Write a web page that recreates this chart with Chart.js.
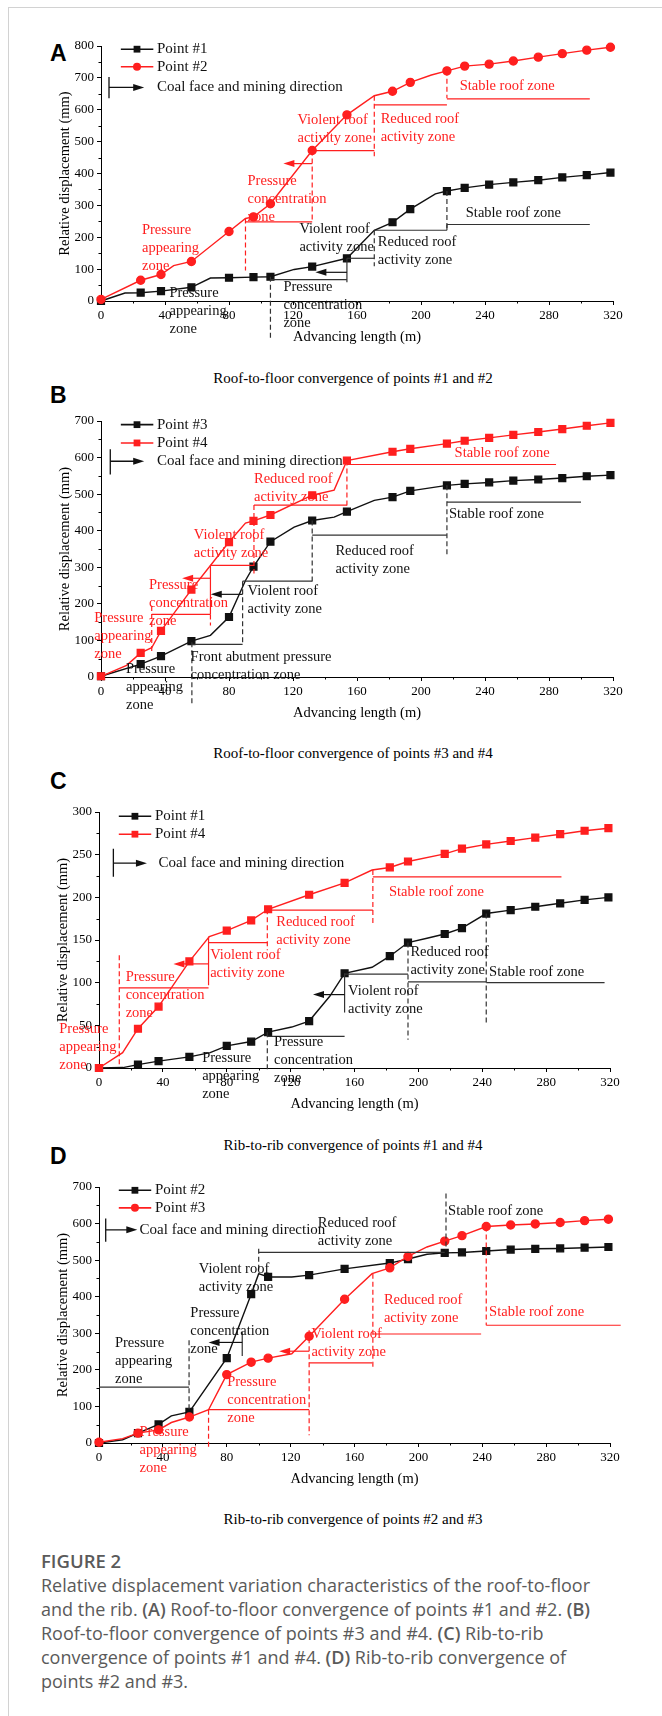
<!DOCTYPE html>
<html>
<head>
<meta charset="utf-8">
<script src="https://cdn.jsdelivr.net/npm/chart.js"></script>
<style>
  body { margin: 0; background: #fff; width: 662px; height: 1716px; position: relative; overflow: hidden; }
  canvas { position: absolute; left: 0; }
  .frame { position: absolute; left: 8px; top: 7px; width: 700px; height: 1800px; border-left: 1px solid #d2d2d2; border-top: 1px solid #d2d2d2; }
  .tag { position: absolute; left: 50px; font: bold 23px/23px "Liberation Sans", Arial, sans-serif; color: #000; }
  .cap { position: absolute; left: 97px; width: 512px; text-align: center; font: 15px/20px "Liberation Serif", serif; color: #000; }
  .fig { position: absolute; left: 41px; top: 1549px; width: 620px; white-space: nowrap; font-family: "Open Sans", sans-serif; color: #5a5a5a; }
  .fig .h { font-weight: 600; font-size: 18.5px; line-height: 24px; }
  .fig .t { font-size: 18px; line-height: 24px; }
  .fig b { font-weight: 600; }
</style>
</head>
<body>
<div class="frame"></div>

<div class="tag" style="top:42px">A</div>
<div class="cap" style="top:368px">Roof-to-floor convergence of points #1 and #2</div>
<div class="tag" style="top:384px">B</div>
<div class="cap" style="top:743px">Roof-to-floor convergence of points #3 and #4</div>
<div class="tag" style="top:770px">C</div>
<div class="cap" style="top:1135px">Rib-to-rib convergence of points #1 and #4</div>
<div class="tag" style="top:1145px">D</div>
<div class="cap" style="top:1509px">Rib-to-rib convergence of points #2 and #3</div>

<canvas id="cA" width="662" height="316" style="top:30px"></canvas>
<canvas id="cB" width="662" height="317" style="top:405px"></canvas>
<canvas id="cC" width="662" height="317" style="top:796px"></canvas>
<canvas id="cD" width="662" height="317" style="top:1171px"></canvas>

<div class="fig">
  <div class="h">FIGURE 2</div>
  <div class="t">Relative displacement variation characteristics of the roof-to-floor<br>and the rib. <b>(A)</b> Roof-to-floor convergence of points #1 and #2. <b>(B)</b><br>Roof-to-floor convergence of points #3 and #4. <b>(C)</b> Rib-to-rib<br>convergence of points #1 and #4. <b>(D)</b> Rib-to-rib convergence of<br>points #2 and #3.</div>
</div>

<script>
// Eixo X comum (m)
const xTicks = [0, 40, 80, 120, 160, 200, 240, 280, 320];
const yTicksA = [0, 100, 200, 300, 400, 500, 600, 700, 800];
const yTicksB = [0, 100, 200, 300, 400, 500, 600, 700];
const yTicksC = [0, 50, 100, 150, 200, 250, 300];
const yTicksD = [0, 100, 200, 300, 400, 500, 600, 700];

// (A) Point #1 / Point #2  (m = 1 -> marcador)
const xA1 = [0, 15, 24.8, 37.5, 56.5, 68.4, 80, 95.3, 105.9, 120.7, 132, 153.7, 170.8, 182.2, 193.3, 209, 216.2, 227.3, 242.6, 257.7, 273.3, 288.3, 303.6, 318.4];
const yA1 = [0, 25, 26, 31, 43, 72, 73, 75, 76, 99, 108, 134, 222, 247, 288, 336, 345, 355, 365, 372, 379, 388, 395, 403];
const mA1 = [1, 0, 1, 1, 1, 0, 1, 1, 1, 0, 1, 1, 0, 1, 1, 0, 1, 1, 1, 1, 1, 1, 1, 1];
const xA2 = [0, 24.8, 37.5, 45.4, 56.5, 80, 90.3, 95.3, 105.9, 132, 153.7, 170.8, 182.2, 193.3, 206.5, 216.2, 227.3, 242.6, 257.7, 273.3, 288.3, 303.6, 318.4];
const yA2 = [5, 65, 83, 111, 124, 218, 259, 264, 305, 472, 584, 644, 658, 686, 709, 722, 737, 743, 753, 765, 776, 787, 796];
const mA2 = [1, 1, 1, 0, 1, 1, 0, 1, 1, 1, 1, 0, 1, 1, 0, 1, 1, 1, 1, 1, 1, 1, 1];

// (B) Point #3 / Point #4
const xB3 = [0, 24.8, 37.5, 56.5, 68.4, 80, 90.3, 95.3, 105.9, 120.7, 132, 145.7, 153.7, 170.8, 182.2, 193.3, 216.2, 227.3, 242.6, 257.7, 273.3, 288.3, 303.6, 318.4];
const yB3 = [2, 35, 57, 98, 114, 164, 264, 302, 370, 410, 428, 437, 452, 483, 492, 509, 524, 528, 532, 537, 540, 544, 549, 552];
const mB3 = [1, 1, 1, 1, 0, 1, 0, 1, 1, 0, 1, 0, 1, 0, 1, 1, 1, 1, 1, 1, 1, 1, 1, 1];
const xB4 = [0, 16, 24.8, 31.7, 37.5, 56.5, 68.4, 80, 90.3, 95.3, 105.9, 132, 145.7, 153.7, 182.2, 193.3, 216.2, 227.3, 242.6, 257.7, 273.3, 288.3, 303.6, 318.4];
const yB4 = [2, 32, 66, 80, 126, 239, 305, 369, 421, 427, 443, 497, 511, 592, 616, 624, 638, 646, 654, 662, 670, 678, 687, 695];
const mB4 = [1, 0, 1, 0, 1, 1, 0, 1, 0, 1, 1, 1, 0, 1, 1, 1, 1, 1, 1, 1, 1, 1, 1, 1];

// (C) Point #1 / Point #4
const xC1 = [0, 15, 24.4, 37.3, 56.6, 69.6, 80, 95.3, 105.9, 120.7, 131.6, 144.5, 153.8, 171, 182.1, 193.5, 205.4, 216.5, 227.3, 242.5, 257.8, 273.2, 288.8, 304.1, 319];
const yC1 = [0, 0.5, 4, 8, 13, 18, 26, 31, 42, 48, 55, 84, 111, 118, 131, 147, 152, 157, 164, 181, 185, 189, 193, 197, 200];
const mC1 = [1, 0, 1, 1, 1, 0, 1, 1, 1, 0, 1, 0, 1, 0, 1, 1, 0, 1, 1, 1, 1, 1, 1, 1, 1];
const xC4 = [0, 14.8, 24.4, 37.3, 56.6, 69.1, 80, 95.3, 105.9, 131.6, 153.8, 171, 182.1, 193.5, 216.5, 227.3, 242.5, 257.8, 273.2, 288.8, 304.1, 319];
const yC4 = [0, 18, 46, 72, 125, 154, 161, 173, 186, 203, 217, 232, 235, 242, 251, 257, 262, 266, 270, 274, 278, 281];
const mC4 = [1, 0, 1, 1, 1, 0, 1, 1, 1, 1, 1, 0, 1, 1, 1, 1, 1, 1, 1, 1, 1, 1];

// (D) Point #2 / Point #3
const xD2 = [0, 14.8, 24.4, 37.3, 45.3, 56.6, 80, 95.3, 100, 105.9, 120.7, 131.6, 153.8, 182.1, 193.5, 205.4, 216.5, 227.3, 242.5, 257.8, 273.2, 288.8, 304.1, 319];
const yD2 = [0, 9, 27, 51, 74, 85, 232, 407, 463, 454, 454, 459, 476, 492, 503, 516, 520, 521, 525, 529, 531, 532, 534, 536];
const mD2 = [1, 0, 1, 1, 0, 1, 1, 1, 0, 1, 0, 1, 1, 1, 1, 0, 1, 1, 1, 1, 1, 1, 1, 1];
const xD3 = [0, 14.8, 24.4, 37.3, 45.3, 56.6, 68.6, 80, 95.3, 105.9, 120.7, 131.6, 153.8, 171, 182.1, 193.5, 205.4, 216.5, 227.3, 242.5, 257.8, 273.2, 288.8, 304.1, 319];
const yD3 = [2, 12, 27, 36, 56, 71, 91, 187, 221, 232, 244, 292, 393, 463, 479, 510, 536, 552, 567, 592, 596, 599, 603, 608, 612];
const mD3 = [1, 0, 1, 1, 0, 1, 0, 1, 1, 1, 0, 1, 1, 0, 1, 1, 0, 1, 1, 1, 1, 1, 1, 1, 1];

// Legenda: y de cada entrada; símbolo da frente de lavra: [x barra, y1, y2, x seta, y seta, x texto]
const legYA = [790, 735], coalA = [5, 636, 703, 27, 670, 35];
const legYB = [690, 640], coalB = [5.8, 554, 623, 27, 590, 35];
const legYC = [295, 274], coalC = [9, 224, 257, 30, 240, 37.3];
const legYD = [691, 643], coalD = [4.2, 550, 614, 24, 583, 25.4];

// Zonas: segmentos [cor, x1, y1, x2, y2, tracejado], setas [cor, xDe, xPara, y], textos [cor, x, y, linhas]
const segA = [
  ['r', 90.3, 259, 90.3, 96, 1], ['r', 90.3, 248, 132, 248, 0], ['r', 132, 472, 132, 248, 1],
  ['r', 132, 472, 170.8, 472, 0], ['r', 170.8, 644, 170.8, 454, 1], ['r', 170.8, 615, 216.2, 615, 0],
  ['r', 216.2, 722, 216.2, 636, 1], ['r', 216.2, 634, 305.5, 634, 0],
  ['k', 105.9, 76, 105.9, -117, 1], ['k', 105.9, 67, 153.7, 67, 0], ['k', 153.7, 134, 153.7, 59, 0],
  ['k', 153.7, 134, 170.8, 134, 0], ['k', 170.8, 222, 170.8, 109, 1], ['k', 170.8, 222, 216.2, 222, 0],
  ['k', 216.2, 345, 216.2, 222, 1], ['k', 216.2, 222, 216.2, 240, 0], ['k', 216.2, 240, 305.5, 240, 0]
];
const arrA = [['r', 132, 114, 431], ['k', 153.7, 134, 90]];
const txtA = [
  ['r', 25.6, 222, 'Pressure|appearing|zone'], ['r', 91.6, 376, 'Pressure|concentration|zone'],
  ['r', 122.8, 566, 'Violent roof|activity zone'], ['r', 174.8, 570, 'Reduced roof|activity zone'],
  ['r', 224.2, 674, 'Stable roof zone'],
  ['k', 42.8, 23, 'Pressure|appearing|zone'], ['k', 114, 44, 'Pressure|concentration|zone'],
  ['k', 124, 224, 'Violent roof|activity zone'], ['k', 173, 184, 'Reduced roof|activity zone'],
  ['k', 228, 277, 'Stable roof zone']
];

const segB = [
  ['r', 31.7, 194, 31.7, 66, 1], ['r', 31.7, 171, 68.4, 171, 0], ['r', 68.4, 305, 68.4, 171, 0],
  ['r', 68.4, 171, 68.4, 141, 1], ['r', 68.4, 305, 95.6, 305, 0], ['r', 95.6, 470, 95.6, 283, 1],
  ['r', 95.6, 470, 153.7, 470, 0], ['r', 153.7, 592, 153.7, 462, 1], ['r', 153.7, 581, 284.4, 581, 0],
  ['k', 56.8, 95, 56.8, -73, 1], ['k', 56.8, 89, 88.5, 89, 0], ['k', 88.5, 262, 88.5, 89, 1],
  ['k', 88.5, 262, 132, 262, 0], ['k', 132, 428, 132, 261, 1], ['k', 132, 388, 216.2, 388, 0],
  ['k', 216.2, 524, 216.2, 328, 1], ['k', 216.2, 478, 300, 478, 0]
];
const arrB = [['r', 68.4, 50.7, 270], ['k', 88.5, 68.6, 226]];
const txtB = [
  ['r', -4.2, 160, 'Pressure|appearing|zone'], ['r', 30, 251, 'Pressure|concentration|zone'],
  ['r', 58, 388, 'Violent roof|activity zone'], ['r', 95.6, 540, 'Reduced roof|activity zone'],
  ['r', 221, 611, 'Stable roof zone'],
  ['k', 15.6, 20, 'Pressure|appearing|zone'], ['k', 56, 55, 'Front abutment pressure|concentration zone'],
  ['k', 91.6, 234, 'Violent roof|activity zone'], ['k', 146.5, 344, 'Reduced roof|activity zone'],
  ['k', 217.5, 445, 'Stable roof zone']
];

const segC = [
  ['r', 12.7, 132, 12.7, 2, 1], ['r', 12.7, 94, 68.6, 94, 0], ['r', 68.6, 154, 68.6, 97, 0],
  ['r', 68.6, 147, 105.4, 147, 0], ['r', 105.4, 186, 105.4, 138, 1], ['r', 105.4, 185, 171.5, 185, 0],
  ['r', 171.5, 232, 171.5, 170, 1], ['r', 171.5, 224, 289.6, 224, 0],
  ['k', 105.4, 42, 105.4, -4, 1], ['k', 105.4, 37, 153.8, 37, 0], ['k', 153.8, 111, 153.8, 65, 0],
  ['k', 153.8, 110, 193.5, 110, 0], ['k', 193.5, 147, 193.5, 33, 1], ['k', 193.5, 101, 242.5, 101, 0],
  ['k', 242.5, 181, 242.5, 51, 1], ['k', 242.5, 100, 316.6, 100, 0]
];
const arrC = [['r', 68.6, 46.6, 122], ['k', 153.8, 134, 86]];
const txtC = [
  ['r', -24.9, 46, 'Pressure|appearing|zone'], ['r', 16.7, 106, 'Pressure|concentration|zone'],
  ['r', 69.6, 132.5, 'Violent roof|activity zone'], ['r', 111, 171, 'Reduced roof|activity zone'],
  ['r', 181.6, 206, 'Stable roof zone'],
  ['k', 64.6, 11, 'Pressure|appearing|zone'], ['k', 109.6, 30, 'Pressure|concentration|zone'],
  ['k', 156, 90.5, 'Violent roof|activity zone'], ['k', 195, 135.5, 'Reduced roof|activity zone'],
  ['k', 244.3, 112, 'Stable roof zone']
];

const segD = [
  ['k', 0, 153, 56.4, 153, 0], ['k', 56.4, 281, 56.4, 85, 1], ['k', 89.7, 304, 89.7, 238, 0],
  ['k', 100, 531, 100, 463, 1], ['k', 100, 521, 216.5, 521, 0], ['k', 217.3, 682, 217.3, 527, 1],
  ['r', 68.6, 91, 68.6, -10, 1], ['r', 68.6, 91, 131.6, 91, 0], ['r', 131.6, 308, 131.6, 21, 1],
  ['r', 131.6, 219, 171, 219, 0], ['r', 171.5, 463, 171.5, 200, 1], ['r', 171.5, 298, 239.3, 298, 0],
  ['r', 242.5, 592, 242.5, 322, 1], ['r', 242.5, 322, 326.7, 322, 0]
];
const arrD = [['k', 89.7, 68.6, 275], ['r', 131.6, 112.8, 251]];
const txtD = [
  ['k', 10, 272, 'Pressure|appearing|zone'], ['k', 57.2, 354, 'Pressure|concentration|zone'],
  ['k', 62.5, 474, 'Violent roof|activity zone'], ['k', 137, 600, 'Reduced roof|activity zone'],
  ['k', 218.6, 634, 'Stable roof zone'],
  ['r', 25.4, 30, 'Pressure|appearing|zone'], ['r', 80.3, 165, 'Pressure|concentration|zone'],
  ['r', 133, 297, 'Violent roof|activity zone'], ['r', 178.4, 390, 'Reduced roof|activity zone'],
  ['r', 244.3, 357, 'Stable roof zone']
];

const RED = "#ff1f1f";
const BLK = "#111";
const SERIF = '"Liberation Serif", "Times New Roman", serif';

function cor(c) { return c === 'r' ? RED : BLK; }

function marcador(ctx, estilo, x, y, r) {
    ctx.beginPath();
    if (estilo === 'rect') {
        const s = r * Math.SQRT1_2;
        ctx.rect(x - s, y - s, 2 * s, 2 * s);
    } else {
        ctx.arc(x, y, r, 0, Math.PI * 2);
    }
    ctx.fill();
}

// Desenha zonas, setas, textos, legenda e ticks menores
const overlay = {
    id: 'overlay',
    afterDatasetsDraw(chart, args, o) {
        const { ctx } = chart;
        const sx = chart.scales.x, sy = chart.scales.y;
        const X = v => sx.getPixelForValue(v), Y = v => sy.getPixelForValue(v);
        ctx.save();

        // ticks menores
        ctx.strokeStyle = '#000';
        ctx.lineWidth = 1;
        ctx.beginPath();
        for (let v = 20; v < 320; v += 40) {
            const p = Math.round(X(v)) + 0.5;
            ctx.moveTo(p, sy.bottom); ctx.lineTo(p, sy.bottom + 2.5);
        }
        for (let v = o.yMinor; v < sy.max; v += o.yMinor * 2) {
            const p = Math.round(Y(v)) + 0.5;
            ctx.moveTo(sx.left, p); ctx.lineTo(sx.left - 2.5, p);
        }
        ctx.stroke();

        // segmentos
        ctx.lineWidth = 1.2;
        o.segs.forEach(([c, x1, y1, x2, y2, d]) => {
            ctx.strokeStyle = c === 'r' ? RED : '#333';
            ctx.setLineDash(d ? [5, 3] : []);
            ctx.beginPath();
            ctx.moveTo(X(x1), Y(y1));
            ctx.lineTo(X(x2), Y(y2));
            ctx.stroke();
        });
        ctx.setLineDash([]);

        // setas
        o.arrows.forEach(([c, x1, x2, yv]) => {
            const a = X(x1), b = X(x2), yy = Y(yv), dir = Math.sign(b - a);
            ctx.strokeStyle = ctx.fillStyle = cor(c);
            ctx.beginPath(); ctx.moveTo(a, yy); ctx.lineTo(b - dir * 6, yy); ctx.stroke();
            ctx.beginPath();
            ctx.moveTo(b, yy); ctx.lineTo(b - dir * 11, yy - 3.5); ctx.lineTo(b - dir * 11, yy + 3.5);
            ctx.closePath(); ctx.fill();
        });

        // textos das zonas
        ctx.font = '14.5px ' + SERIF;
        ctx.textBaseline = 'middle';
        ctx.textAlign = 'left';
        o.texts.forEach(([c, xv, yv, s]) => {
            ctx.fillStyle = cor(c);
            s.split('|').forEach((linha, i) => ctx.fillText(linha, X(xv), Y(yv) + i * 18));
        });

        // frente de lavra
        const [bx, by1, by2, ax, ay, tx] = o.coal;
        ctx.strokeStyle = ctx.fillStyle = BLK;
        ctx.lineWidth = 1.3;
        ctx.beginPath();
        ctx.moveTo(X(bx), Y(by1)); ctx.lineTo(X(bx), Y(by2));
        ctx.moveTo(X(bx), Y(ay)); ctx.lineTo(X(ax) - 8, Y(ay));
        ctx.stroke();
        ctx.beginPath();
        ctx.moveTo(X(ax), Y(ay)); ctx.lineTo(X(ax) - 11, Y(ay) - 3.5); ctx.lineTo(X(ax) - 11, Y(ay) + 3.5);
        ctx.closePath(); ctx.fill();
        ctx.font = '15px ' + SERIF;
        ctx.fillText('Coal face and mining direction', X(tx), Y(ay));

        // legenda
        chart.data.datasets.forEach((ds, i) => {
            const yy = Y(o.legY[i]);
            ctx.strokeStyle = ctx.fillStyle = ds.borderColor;
            ctx.lineWidth = 1.6;
            ctx.beginPath(); ctx.moveTo(X(12.4), yy); ctx.lineTo(X(32.7), yy); ctx.stroke();
            marcador(ctx, ds.pointStyle, X(22.5), yy, ds.pointStyle === 'rect' ? 4.8 : 4);
            ctx.fillStyle = BLK;
            ctx.fillText(ds.label, X(35), yy);
        });

        ctx.restore();
    }
};

function pontos(xs, ys) {
    return xs.map((v, i) => ({ x: v, y: ys[i] }));
}

function serie(nome, xs, ys, ms, cor, estilo, ordem) {
    return {
        label: nome,
        data: pontos(xs, ys),
        borderColor: cor,
        backgroundColor: cor,
        pointBackgroundColor: cor,
        pointBorderColor: cor,
        pointStyle: estilo,
        pointRadius: ms.map(m => m ? (estilo === 'rect' ? 4.8 : 4) : 0),
        borderWidth: 1.4,
        tension: 0,
        order: ordem,
        clip: false
    };
}

function painel(id, yTicks, padL, padR, datasets, extra) {
    new Chart(document.getElementById(id), {
        type: 'line',
        data: { datasets: datasets },
        options: {
            responsive: false,
            animation: false,
            layout: { padding: { left: padL, right: padR, top: 16, bottom: 0 } },
            plugins: { legend: { display: false }, tooltip: { enabled: false }, overlay: extra },
            scales: {
                x: {
                    type: 'linear', min: 0, max: 320,
                    afterBuildTicks: s => { s.ticks = xTicks.map(v => ({ value: v })); },
                    afterFit: s => { s.height = 45; },
                    ticks: { color: '#000', padding: 3, maxRotation: 0, font: { family: SERIF, size: 13 } },
                    grid: { drawOnChartArea: false, tickLength: 4, color: '#000' },
                    border: { color: '#000', width: 1 },
                    title: { display: true, text: 'Advancing length (m)', color: '#000', padding: 0, font: { family: SERIF, size: 14.5 } }
                },
                y: {
                    type: 'linear', min: 0, max: yTicks[yTicks.length - 1],
                    afterBuildTicks: s => { s.ticks = yTicks.map(v => ({ value: v })); },
                    afterFit: s => { s.width = 45; },
                    ticks: { color: '#000', padding: 3, font: { family: SERIF, size: 13 } },
                    grid: { drawOnChartArea: false, tickLength: 4, color: '#000' },
                    border: { color: '#000', width: 1 },
                    title: { display: true, text: 'Relative displacement (mm)', color: '#000', padding: 0, font: { family: SERIF, size: 14.5 } }
                }
            }
        },
        plugins: [overlay]
    });
}

painel('cA', yTicksA, 56, 49, [
    serie('Point #1', xA1, yA1, mA1, BLK, 'rect', 2),
    serie('Point #2', xA2, yA2, mA2, RED, 'circle', 1)
], { yMinor: 50, legY: legYA, coal: coalA, segs: segA, arrows: arrA, texts: txtA });

painel('cB', yTicksB, 56, 49, [
    serie('Point #3', xB3, yB3, mB3, BLK, 'rect', 2),
    serie('Point #4', xB4, yB4, mB4, RED, 'rect', 1)
], { yMinor: 50, legY: legYB, coal: coalB, segs: segB, arrows: arrB, texts: txtB });

painel('cC', yTicksC, 54, 52, [
    serie('Point #1', xC1, yC1, mC1, BLK, 'rect', 2),
    serie('Point #4', xC4, yC4, mC4, RED, 'rect', 1)
], { yMinor: 25, legY: legYC, coal: coalC, segs: segC, arrows: arrC, texts: txtC });

painel('cD', yTicksD, 54, 52, [
    serie('Point #2', xD2, yD2, mD2, BLK, 'rect', 2),
    serie('Point #3', xD3, yD3, mD3, RED, 'circle', 1)
], { yMinor: 50, legY: legYD, coal: coalD, segs: segD, arrows: arrD, texts: txtD });
</script>
</body>
</html>
